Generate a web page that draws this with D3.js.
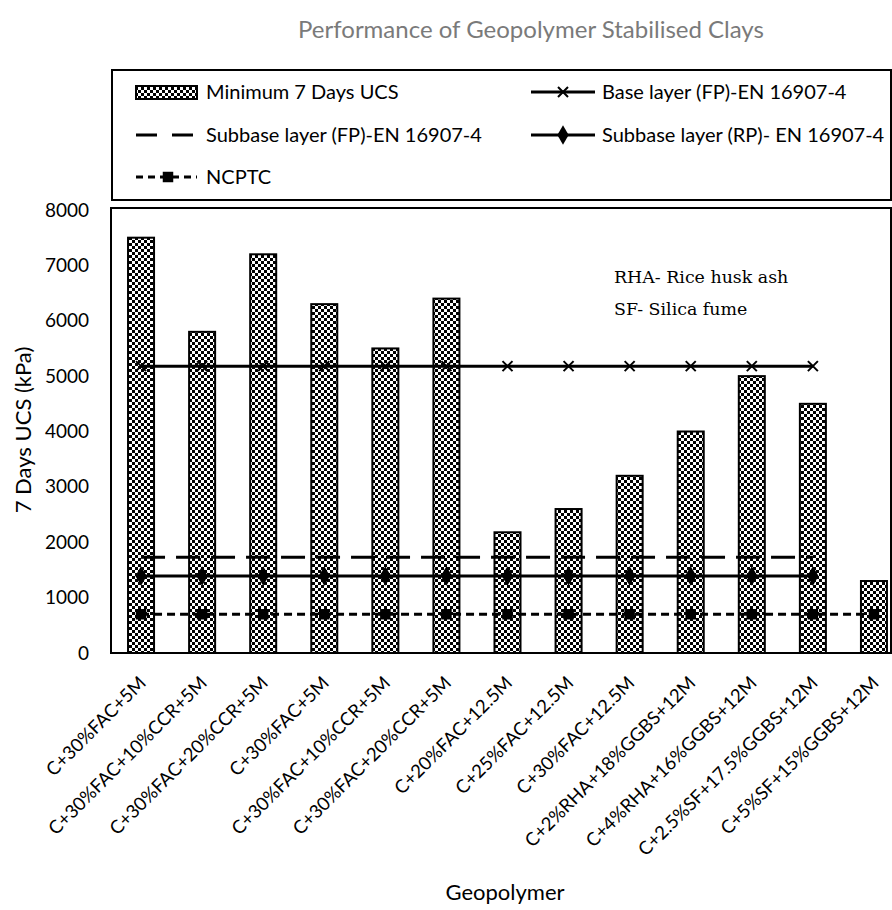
<!DOCTYPE html>
<html><head><meta charset="utf-8">
<script src="https://cdn.jsdelivr.net/npm/d3@7"></script>
<style>body{margin:0;background:#fff}</style></head>
<body><svg id="c" width="892" height="910"></svg>
<script>
const categories = ["C+30%FAC+5M","C+30%FAC+10%CCR+5M","C+30%FAC+20%CCR+5M","C+30%FAC+5M ","C+30%FAC+10%CCR+5M ","C+30%FAC+20%CCR+5M ","C+20%FAC+12.5M","C+25%FAC+12.5M","C+30%FAC+12.5M","C+2%RHA+18%GGBS+12M","C+4%RHA+16%GGBS+12M","C+2.5%SF+17.5%GGBS+12M","C+5%SF+15%GGBS+12M"];
const ucsValues = [7500,5800,7200,6300,5500,6400,2180,2600,3200,4000,5000,4500,1300];
const baseLayerFP = [5180,5180,5180,5180,5180,5180,5180,5180,5180,5180,5180,5180];
const subbaseLayerFP = [1730,1730,1730,1730,1730,1730,1730,1730,1730,1730,1730,1730];
const subbaseLayerRP = [1390,1390,1390,1390,1390,1390,1390,1390,1390,1390,1390,1390];
const ncptc = [700,700,700,700,700,700,700,700,700,700,700,700,700];
const yTicks = [0,1000,2000,3000,4000,5000,6000,7000,8000];

const svg = d3.select("#c");
const F = "Lato, 'Open Sans', sans-serif";
const defs = svg.append("defs");
const pat = defs.append("pattern").attr("id","chk").attr("width",6).attr("height",6).attr("patternUnits","userSpaceOnUse");
pat.append("rect").attr("width",6).attr("height",6).attr("fill","#fff");
pat.append("rect").attr("width",3).attr("height",3).attr("fill","#000");
pat.append("rect").attr("x",3).attr("y",3).attr("width",3).attr("height",3).attr("fill","#000");

const x = d3.scaleBand().domain(categories).range([110.5, 904.5]).paddingInner(0.574).paddingOuter(0.287);
const y = d3.scaleLinear().domain([0,8000]).range([653,210]);
const cx = (i) => x(categories[i]) + x.bandwidth()/2;

// title
svg.append("text").attr("x",531).attr("y",38).attr("text-anchor","middle").attr("font-family",F).attr("font-size",24).attr("fill","#7a7a7a").text("Performance of Geopolymer Stabilised Clays");

// legend box
svg.append("rect").attr("x",112).attr("y",70).attr("width",779).attr("height",130).attr("fill","none").attr("stroke","#000").attr("stroke-width",2);
// plot box
svg.append("rect").attr("x",111).attr("y",208).attr("width",780).attr("height",445).attr("fill","none").attr("stroke","#000").attr("stroke-width",2);

// y axis
const yAxis = d3.axisLeft(y).tickValues(yTicks).tickFormat(d3.format("d")).tickSize(0).tickPadding(0);
const ya = svg.append("g").attr("transform","translate(89,0)").call(yAxis);
ya.select(".domain").remove();
ya.selectAll("text").attr("font-family",F).attr("font-size",19).attr("fill","#000");

// bars
svg.append("g").selectAll("rect").data(ucsValues).join("rect")
  .attr("x",(d,i)=>x(categories[i])).attr("y",d=>y(d)).attr("width",x.bandwidth()).attr("height",d=>y(0)-y(d))
  .attr("fill","url(#chk)").attr("stroke","#000").attr("stroke-width",2);

// lines
function series(vals, dash, width){
  const line = d3.line().x((d,i)=>cx(i)).y(d=>y(d));
  svg.append("path").datum(vals).attr("d",line).attr("fill","none").attr("stroke","#000").attr("stroke-width",width).attr("stroke-dasharray",dash);
}
series(baseLayerFP, null, 3);
series(subbaseLayerFP, "24,11", 3);
series(subbaseLayerRP, null, 3);
series(ncptc, "8,5", 3);

svg.append("g").selectAll("path").data(baseLayerFP).join("path")
  .attr("transform",(d,i)=>`translate(${cx(i)},${y(d)})`).attr("d","M-5,-5L5,5M-5,5L5,-5").attr("stroke","#000").attr("stroke-width",2);
svg.append("g").selectAll("path").data(subbaseLayerRP).join("path")
  .attr("transform",(d,i)=>`translate(${cx(i)},${y(d)})`).attr("d",d3.symbol(d3.symbolDiamond,110)()).attr("fill","#000");
svg.append("g").selectAll("path").data(ncptc).join("path")
  .attr("transform",(d,i)=>`translate(${cx(i)},${y(d)})`).attr("d",d3.symbol(d3.symbolSquare,110)()).attr("fill","#000");

// x labels
svg.append("g").selectAll("text").data(categories).join("text")
  .attr("transform",(d,i)=>`translate(${cx(i)+6},684) rotate(-45)`).attr("text-anchor","end")
  .attr("font-family",F).attr("font-size",18.5).attr("fill","#000").text(d=>d.trim());

// axis titles
svg.append("text").attr("transform","translate(31,430) rotate(-90)").attr("text-anchor","middle").attr("font-family",F).attr("font-size",22).attr("fill","#000").text("7 Days UCS (kPa)");
svg.append("text").attr("x",505).attr("y",900).attr("text-anchor","middle").attr("font-family",F).attr("font-size",22).attr("fill","#000").text("Geopolymer");

// annotation
svg.append("text").attr("x",614).attr("y",283).attr("font-family","'DejaVu Serif', serif").attr("font-size",17.4).attr("fill","#000").text("RHA- Rice husk ash");
svg.append("text").attr("x",614).attr("y",315).attr("font-family","'DejaVu Serif', serif").attr("font-size",17.4).attr("fill","#000").text("SF- Silica fume");

// legend
const lg = svg.append("g").attr("font-family",F).attr("font-size",20);
lg.append("rect").attr("x",136).attr("y",86).attr("width",61).attr("height",13).attr("fill","url(#chk)").attr("stroke","#000").attr("stroke-width",2);
lg.append("text").attr("x",206).attr("y",92).attr("dy","0.35em").text("Minimum 7 Days UCS");
lg.append("line").attr("x1",136).attr("x2",197).attr("y1",135).attr("y2",135).attr("stroke","#000").attr("stroke-width",3).attr("stroke-dasharray","21,15");
lg.append("text").attr("x",206).attr("y",135).attr("dy","0.35em").text("Subbase layer (FP)-EN 16907-4");
lg.append("line").attr("x1",136).attr("x2",197).attr("y1",177).attr("y2",177).attr("stroke","#000").attr("stroke-width",3).attr("stroke-dasharray","7,5");
lg.append("path").attr("transform","translate(168,177)").attr("d",d3.symbol(d3.symbolSquare,110)()).attr("fill","#000");
lg.append("text").attr("x",206).attr("y",177).attr("dy","0.35em").text("NCPTC");
lg.append("line").attr("x1",531).attr("x2",595).attr("y1",92).attr("y2",92).attr("stroke","#000").attr("stroke-width",3);
lg.append("path").attr("transform","translate(563,92)").attr("d","M-5,-5L5,5M-5,5L5,-5").attr("stroke","#000").attr("stroke-width",2);
lg.append("text").attr("x",602).attr("y",92).attr("dy","0.35em").text("Base layer (FP)-EN 16907-4");
lg.append("line").attr("x1",531).attr("x2",595).attr("y1",135).attr("y2",135).attr("stroke","#000").attr("stroke-width",3);
lg.append("path").attr("transform","translate(563,135)").attr("d",d3.symbol(d3.symbolDiamond,110)()).attr("fill","#000");
lg.append("text").attr("x",602).attr("y",135).attr("dy","0.35em").text("Subbase layer (RP)- EN 16907-4");
</script></body></html>
